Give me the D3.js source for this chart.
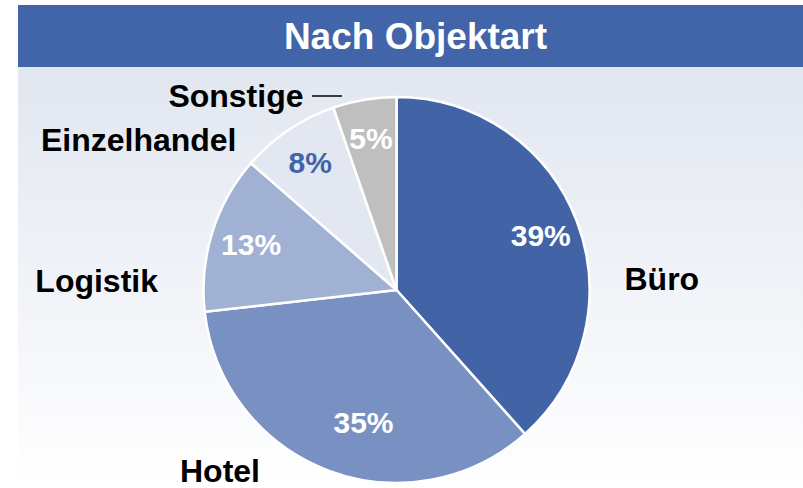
<!DOCTYPE html>
<html>
<head>
<meta charset="utf-8">
<script src="https://cdn.jsdelivr.net/npm/d3@7"></script>
<style>
  body { margin: 0; background: #fff; }
  svg { display: block; font-family: "Liberation Sans", Arial, sans-serif; font-weight: bold; }
</style>
</head>
<body>
<svg id="chart"></svg>
<script>
// Data
const categories = ["Büro", "Hotel", "Logistik", "Einzelhandel", "Sonstige"]
const shares = [38.4, 34.8, 13.2, 8.3, 5.3]
const shareLabels = ["39%", "35%", "13%", "8%", "5%"]
const sliceColors = ["#4264a7", "#7991c2", "#a0b1d3", "#e2e7f1", "#bfbfbf"]
const valueColors = ["#fff", "#fff", "#fff", "#4264a7", "#fff"]
const title = "Nach Objektart"

const width = 803, height = 488
const cx = 396.5, cy = 290, R = 193

const svg = d3.select('#chart')
    .attr("width", width)
    .attr("height", height)

// background gradient
const grad = svg.append("defs").append("linearGradient")
    .attr("id", "bg")
    .attr("x1", 0).attr("y1", 0).attr("x2", 0).attr("y2", 1)
grad.append("stop").attr("offset", "0%").attr("stop-color", "#e1e6f0")
grad.append("stop").attr("offset", "100%").attr("stop-color", "#ffffff")

svg.append("rect")
    .attr("x", 18).attr("y", 67)
    .attr("width", width - 18).attr("height", height - 67)
    .attr("fill", "url(#bg)")

// title bar
svg.append("rect")
    .attr("x", 18).attr("y", 5)
    .attr("width", width - 18).attr("height", 62)
    .attr("fill", "#4264a8")

svg.append("text")
    .attr("x", 415.5).attr("y", 49)
    .attr("text-anchor", "middle")
    .attr("fill", "#fff")
    .attr("font-size", 37)
    .text(title)

// pie
const pie = d3.pie().sort(null)
const arcs = pie(shares)
const arc = d3.arc().innerRadius(0).outerRadius(R)
const labelArc = d3.arc().innerRadius(R * 0.8).outerRadius(R * 0.8)

const g = svg.append("g").attr("transform", "translate(" + [cx, cy] + ")")

g.selectAll("path")
    .data(arcs)
    .enter()
    .append("path")
    .attr("d", arc)
    .attr("fill", (d, i) => sliceColors[i])
    .attr("stroke", "#fff")
    .attr("stroke-width", 2.5)
    .attr("stroke-linejoin", "round")

// percent labels (Hotel one sits a bit further in, like the original)
const nudge = { 1: [22, -12], 2: [2, 0] }
g.selectAll("text.val")
    .data(arcs)
    .enter()
    .append("text")
    .attr("class", "val")
    .attr("transform", (d, i) => {
        const c = labelArc.centroid(d)
        const n = nudge[i] || [0, 0]
        return "translate(" + [c[0] + n[0], c[1] + n[1]] + ")"
    })
    .attr("text-anchor", "middle")
    .attr("dy", "0.36em")
    .attr("font-size", 30)
    .attr("fill", (d, i) => valueColors[i])
    .text((d, i) => shareLabels[i])

// category labels, placed around the pie
const catPos = [
    { x: R + 35, y: 0, anchor: "start" },
    { x: -R - 23.5, y: R - 1, anchor: "start" },
    { x: -R - 45.5, y: 2, anchor: "end" },
    { x: -R + 33, y: -139, anchor: "end" },
    { x: -R + 100, y: -183, anchor: "end" }
]
g.selectAll("text.cat")
    .data(categories)
    .enter()
    .append("text")
    .attr("class", "cat")
    .attr("x", (d, i) => catPos[i].x)
    .attr("y", (d, i) => catPos[i].y)
    .attr("text-anchor", (d, i) => catPos[i].anchor)
    .attr("font-size", 32)
    .attr("fill", "#000")
    .text(d => d)

// leader line for Sonstige
g.append("line")
    .attr("x1", -R + 108.5).attr("x2", -R + 138.5)
    .attr("y1", -194).attr("y2", -194)
    .attr("stroke", "#000")
    .attr("stroke-width", 1.5)
</script>
</body>
</html>
